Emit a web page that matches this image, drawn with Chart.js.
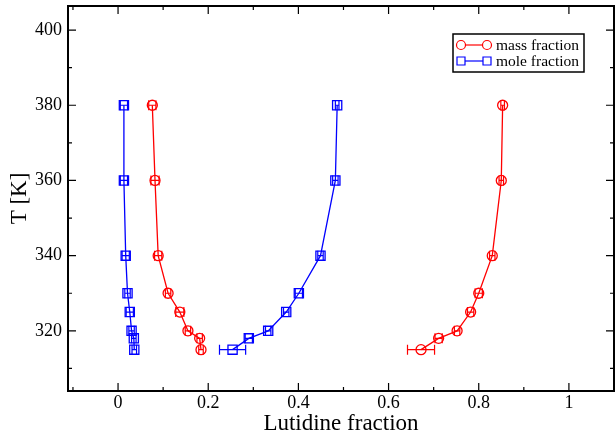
<!DOCTYPE html>
<html>
<head>
<meta charset="utf-8">
<script src="https://cdn.jsdelivr.net/npm/chart.js@4.4.0/dist/chart.umd.min.js"></script>
<style>
  body { margin: 0; background: #fff; }
</style>
</head>
<body>
<canvas id="chart" width="615" height="440"></canvas>
<script>
// temperatures (K), top to bottom of each branch
const temps = [380, 360, 340, 330, 325, 320, 318, 315];

// mass fraction, lutidine-poor and lutidine-rich branch
const massLeft = [0.076, 0.082, 0.089, 0.111, 0.137, 0.155, 0.181, 0.184];
const massLeftErr = [0.008, 0.009, 0.008, 0.006, 0.009, 0.006, 0.006, 0.005];
const massRight = [0.853, 0.850, 0.830, 0.800, 0.782, 0.752, 0.711, 0.672];
const massRightErr = [0.004, 0.005, 0.006, 0.008, 0.007, 0.006, 0.008, 0.030];

// mole fraction
const moleLeft = [0.013, 0.013, 0.017, 0.021, 0.026, 0.030, 0.035, 0.036];
const moleLeftErr = [0.008, 0.008, 0.008, 0.006, 0.008, 0.006, 0.005, 0.005];
const moleRight = [0.486, 0.482, 0.449, 0.401, 0.373, 0.333, 0.290, 0.254];
const moleRightErr = [0.004, 0.006, 0.006, 0.008, 0.006, 0.006, 0.008, 0.029];

const xTicks = [0, 0.2, 0.4, 0.6, 0.8, 1];
const xMinor = [-0.1, 0.1, 0.3, 0.5, 0.7, 0.9];
const yTicks = [320, 340, 360, 380, 400];
const yMinor = [310, 330, 350, 370, 390];

const serif = "'Liberation Serif', 'Times New Roman', serif";

// left branch top->bottom, gap, right branch bottom->top
function branchPoints(left, leftErr, right, rightErr) {
    const pts = [];
    temps.forEach((t, i) => pts.push({ x: left[i], y: t, err: leftErr[i] }));
    pts.push({ x: null, y: null });
    for (let i = temps.length - 1; i >= 0; i--) {
        pts.push({ x: right[i], y: temps[i], err: rightErr[i] });
    }
    return pts;
}

const errorBars = {
    id: 'errorBars',
    beforeDatasetsDraw(chart) {
        const ctx = chart.ctx;
        const xs = chart.scales.x, ys = chart.scales.y;
        ctx.save();
        chart.data.datasets.forEach(ds => {
            ctx.strokeStyle = ds.borderColor;
            ctx.lineWidth = 1.2;
            ds.data.forEach(p => {
                if (p.x === null) return;
                const x1 = xs.getPixelForValue(p.x - p.err);
                const x2 = xs.getPixelForValue(p.x + p.err);
                const y = ys.getPixelForValue(p.y);
                ctx.beginPath();
                ctx.moveTo(x1, y); ctx.lineTo(x2, y);
                ctx.moveTo(x1, y - 5); ctx.lineTo(x1, y + 5);
                ctx.moveTo(x2, y - 5); ctx.lineTo(x2, y + 5);
                ctx.stroke();
            });
        });
        ctx.restore();
    }
};

const frame = {
    id: 'frame',
    afterDraw(chart) {
        const ctx = chart.ctx;
        const a = chart.chartArea;
        const xs = chart.scales.x, ys = chart.scales.y;
        ctx.save();
        ctx.strokeStyle = '#000';
        ctx.lineWidth = 1.2;
        ctx.beginPath();
        const tickX = (v, len) => {
            const px = xs.getPixelForValue(v);
            ctx.moveTo(px, a.bottom); ctx.lineTo(px, a.bottom - len);
            ctx.moveTo(px, a.top); ctx.lineTo(px, a.top + len);
        };
        const tickY = (v, len) => {
            const py = ys.getPixelForValue(v);
            ctx.moveTo(a.left, py); ctx.lineTo(a.left + len, py);
            ctx.moveTo(a.right, py); ctx.lineTo(a.right - len, py);
        };
        xTicks.forEach(v => tickX(v, 8));
        xMinor.forEach(v => tickX(v, 4));
        yTicks.forEach(v => tickY(v, 8));
        yMinor.forEach(v => tickY(v, 4));
        ctx.stroke();
        ctx.lineWidth = 2;
        ctx.strokeRect(a.left, a.top, a.right - a.left, a.bottom - a.top);

        // legend box
        const bx = 453, by = 34, bw = 131, bh = 38;
        ctx.lineWidth = 1.5;
        ctx.strokeRect(bx, by, bw, bh);
        ctx.font = '15.5px ' + serif;
        ctx.textBaseline = 'middle';
        chart.data.datasets.forEach((ds, i) => {
            const y = by + 11 + i * 16;
            ctx.strokeStyle = ds.borderColor;
            ctx.lineWidth = 1.2;
            ctx.beginPath();
            ctx.moveTo(461, y); ctx.lineTo(487, y);
            ctx.stroke();
            [461, 487].forEach(mx => {
                ctx.beginPath();
                if (ds.pointStyle === 'circle') {
                    ctx.arc(mx, y, 4.5, 0, Math.PI * 2);
                } else {
                    ctx.rect(mx - 4, y - 4, 8, 8);
                }
                ctx.fillStyle = '#fff';
                ctx.fill();
                ctx.stroke();
            });
            ctx.fillStyle = '#000';
            ctx.fillText(ds.label, 496, y + 1);
        });
        ctx.restore();
    }
};

new Chart(document.getElementById('chart'), {
    type: 'scatter',
    data: {
        datasets: [{
            label: 'mass fraction',
            data: branchPoints(massLeft, massLeftErr, massRight, massRightErr),
            borderColor: '#ff0000',
            pointStyle: 'circle',
            pointRadius: 5,
            pointBorderWidth: 1.3,
            pointBackgroundColor: 'rgba(0,0,0,0)',
            borderWidth: 1.3,
            showLine: true,
            spanGaps: false
        }, {
            label: 'mole fraction',
            data: branchPoints(moleLeft, moleLeftErr, moleRight, moleRightErr),
            borderColor: '#0000ff',
            pointStyle: 'rect',
            pointRadius: 6.5,
            pointBorderWidth: 1.3,
            pointBackgroundColor: 'rgba(0,0,0,0)',
            borderWidth: 1.3,
            showLine: true,
            spanGaps: false
        }]
    },
    options: {
        responsive: false,
        animation: false,
        events: [],
        layout: { autoPadding: false, padding: { top: 6, right: 1, left: 0, bottom: 0 } },
        plugins: {
            legend: { display: false },
            tooltip: { enabled: false }
        },
        scales: {
            x: {
                type: 'linear',
                min: -0.111,
                max: 1.1,
                afterBuildTicks: s => { s.ticks = xTicks.map(v => ({ value: v })); },
                afterFit: s => { s.height = 49; s.paddingLeft = 0; s.paddingRight = 0; },
                grid: { display: false, drawTicks: false },
                border: { display: false },
                ticks: {
                    color: '#000',
                    font: { family: serif, size: 18, lineHeight: 1 },
                    padding: 3,
                    maxRotation: 0,
                    callback: v => String(v)
                },
                title: {
                    display: true,
                    text: 'Lutidine fraction',
                    color: '#000',
                    font: { family: serif, size: 23, lineHeight: 1 },
                    padding: { top: 5, bottom: 5 }
                }
            },
            y: {
                type: 'linear',
                min: 304,
                max: 406.4,
                afterBuildTicks: s => { s.ticks = yTicks.map(v => ({ value: v })); },
                afterFit: s => { s.width = 68; s.paddingTop = 0; s.paddingBottom = 0; },
                grid: { display: false, drawTicks: false },
                border: { display: false },
                ticks: {
                    color: '#000',
                    font: { family: serif, size: 18, lineHeight: 1 },
                    padding: 6,
                    callback: v => String(v)
                },
                title: {
                    display: true,
                    text: 'T [K]',
                    color: '#000',
                    font: { family: serif, size: 23, lineHeight: 1 },
                    padding: { top: 8, bottom: 8 }
                }
            }
        }
    },
    plugins: [errorBars, frame]
});
</script>
</body>
</html>
